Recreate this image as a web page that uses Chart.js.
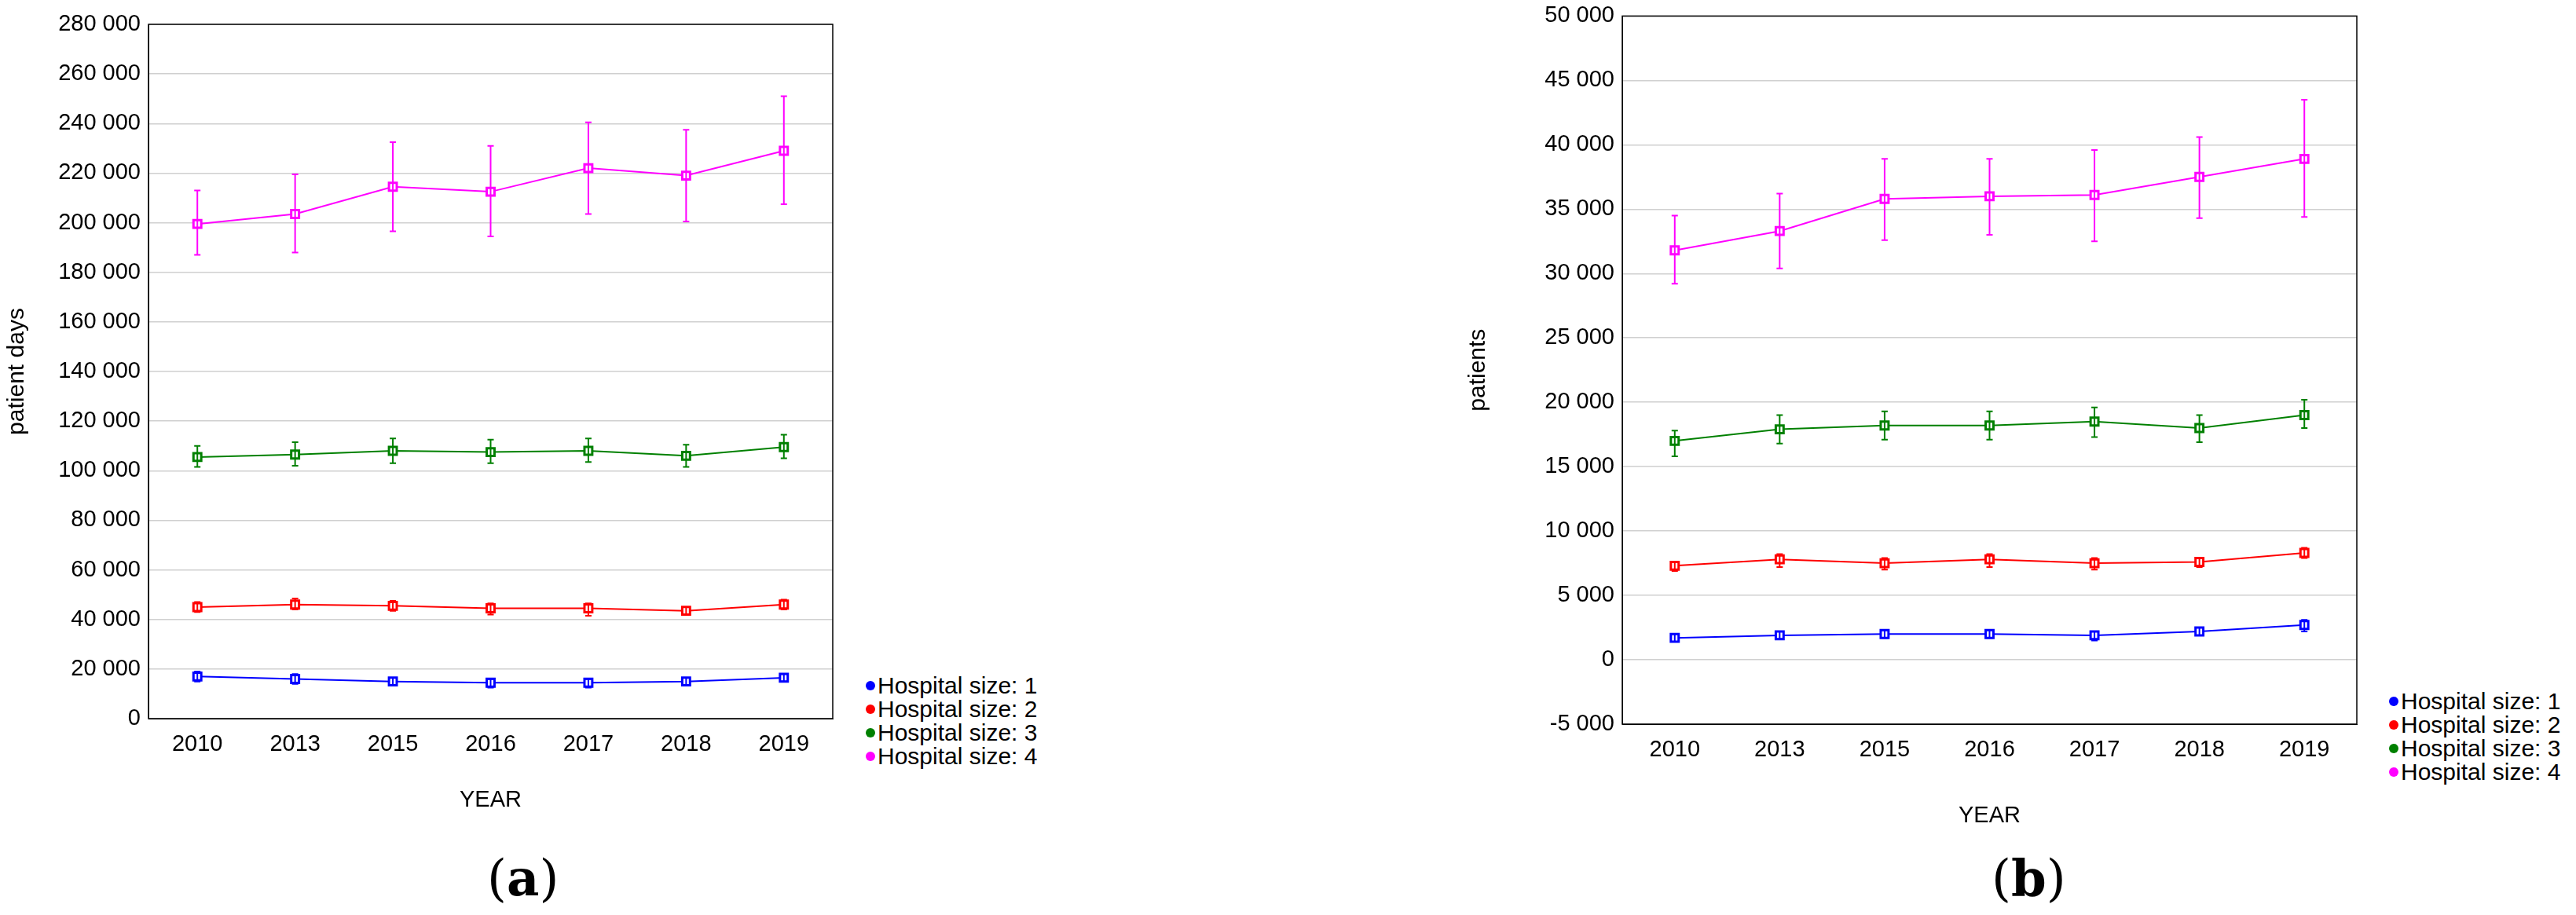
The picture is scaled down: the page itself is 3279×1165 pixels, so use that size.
<!DOCTYPE html>
<html><head><meta charset="utf-8">
<script src="https://cdn.jsdelivr.net/npm/chart.js@4"></script>
<style>
body{margin:0;background:#fff;width:3279px;height:1165px;position:relative;overflow:hidden;font-family:Arial,"Liberation Sans",sans-serif}
canvas{position:absolute}
.leg{position:absolute;font-size:30px;line-height:30px;color:#000}
.leg div{display:flex;align-items:center;white-space:nowrap}
.leg i{display:inline-block;width:12px;height:12px;border-radius:6px;margin:0 3px 0 6px;position:relative}
.cap{position:absolute;font-family:"DejaVu Serif","Liberation Serif",serif;font-size:64px;top:1080px}
</style></head><body>
<canvas id="c1" style="left:0;top:0" width="1070" height="1040"></canvas>
<canvas id="c2" style="left:1860px;top:-7px" width="1150" height="1067"></canvas>
<div class="leg" id="l1" style="left:1096px;top:858px"></div>
<div class="leg" id="l2" style="left:3035px;top:878px"></div>
<div class="cap" style="left:620px">(<b>a</b>)</div>
<div class="cap" style="left:2535px">(<b>b</b>)</div>
<script>
const years=["2010","2013","2015","2016","2017","2018","2019"];
const seriesNames=["Hospital size: 1","Hospital size: 2","Hospital size: 3","Hospital size: 4"];
const colors=["#0000ff","#ff0000","#008000","#ff00ff"];
// (a) patient days
const a1=[17000,16000,15000,14500,14500,15000,16500];
const a1lo=[15000,14000,13500,12500,12500,13500,15000];
const a1hi=[19000,18000,16500,16000,16000,16500,18000];
const a2=[45000,46000,45500,44500,44500,43500,46000];
const a2lo=[43000,44000,43500,42000,41500,42000,44000];
const a2hi=[47000,48500,47500,46500,46500,45000,48000];
const a3=[105500,106500,108000,107500,108000,106000,109500];
const a3lo=[101500,102000,103000,103000,103500,101500,105000];
const a3hi=[110000,111500,113000,112500,113000,110500,114500];
const a4=[199500,203500,214500,212500,222000,219000,229000];
const a4lo=[187000,188000,196500,194500,203500,200500,207500];
const a4hi=[213000,219500,232500,231000,240500,237500,251000];
// (b) patients
const b1=[1700,1900,2000,2000,1900,2200,2700];
const b1lo=[1400,1600,1700,1700,1500,1900,2200];
const b1hi=[2000,2200,2300,2300,2200,2500,3100];
const b2=[7300,7800,7500,7800,7500,7600,8300];
const b2lo=[6900,7200,7000,7200,7000,7200,7900];
const b2hi=[7600,8200,7900,8200,7900,7900,8700];
const b3=[17000,17900,18200,18200,18500,18000,19000];
const b3lo=[15800,16800,17100,17100,17300,16900,18000];
const b3hi=[17800,19000,19300,19300,19600,19000,20200];
const b4=[31800,33300,35800,36000,36100,37500,38900];
const b4lo=[29200,30400,32600,33000,32500,34300,34400];
const b4hi=[34500,36200,38900,38900,39600,40600,43500];

const fmt=v=>{const s=Math.abs(v).toString().replace(/\B(?=(\d{3})+(?!\d))/g,' ');return (v<0?'-':'')+s;};
const errPlugin={id:'err',afterDatasetsDraw(c){const ctx=c.ctx,x=c.scales.x,y=c.scales.y;
 c.data.datasets.forEach((d,i)=>{ctx.save();ctx.strokeStyle=d.borderColor;ctx.lineWidth=2;
  d.lo.forEach((lo,j)=>{const px=x.getPixelForValue(j),y1=y.getPixelForValue(lo),y2=y.getPixelForValue(d.hi[j]);
   ctx.beginPath();ctx.moveTo(px,y1);ctx.lineTo(px,y2);ctx.moveTo(px-4,y1);ctx.lineTo(px+4,y1);ctx.moveTo(px-4,y2);ctx.lineTo(px+4,y2);ctx.stroke();});
  ctx.restore();});
 const a=c.chartArea;ctx.save();ctx.strokeStyle='#000';ctx.lineWidth=1.5;ctx.strokeRect(a.left,a.top,a.right-a.left,a.bottom-a.top);ctx.restore();}};
function mk(id,vals,los,his,min,max,step,ytitle,padTop,xh,yw){
 new Chart(document.getElementById(id),{type:'line',
  data:{labels:years,datasets:vals.map((v,i)=>({label:seriesNames[i],data:v,lo:los[i],hi:his[i],borderColor:colors[i],backgroundColor:'#fff',
   borderWidth:2,pointStyle:'rect',pointRadius:7,pointBorderWidth:3,pointBorderColor:colors[i],tension:0}))},
  options:{responsive:false,animation:false,layout:{padding:{top:padTop,right:6}},
   plugins:{legend:{display:false},tooltip:{enabled:false}},
   scales:{x:{offset:true,grid:{display:false},border:{color:'#000'},ticks:{color:'#000',font:{size:29,family:'Arial'},padding:8},
     title:{display:true,text:'YEAR',color:'#000',font:{size:29,family:'Arial'},padding:{top:22}},afterFit:s=>{s.height=xh;}},
    y:{min:min,max:max,ticks:{stepSize:step,color:'#000',font:{size:29,family:'Arial'},callback:v=>fmt(v),padding:10},
     grid:{color:'#d0d0d0',lineWidth:1.5,drawTicks:false},border:{color:'#000'},
     title:{display:true,text:ytitle,color:'#000',font:{size:30,family:'Arial'}},afterFit:s=>{s.width=yw;}}}},
  plugins:[errPlugin]});
}
mk('c1',[a1,a2,a3,a4],[a1lo,a2lo,a3lo,a4lo],[a1hi,a2hi,a3hi,a4hi],0,280000,20000,'patient days',31,125,189);
mk('c2',[b1,b2,b3,b4],[b1lo,b2lo,b3lo,b4lo],[b1hi,b2hi,b3hi,b4hi],-5000,50000,5000,'patients',4,138,205);
['l1','l2'].forEach(id=>{document.getElementById(id).innerHTML=seriesNames.map((n,i)=>`<div><i style="background:${colors[i]}"></i>${n}</div>`).join('');});
</script></body></html>
